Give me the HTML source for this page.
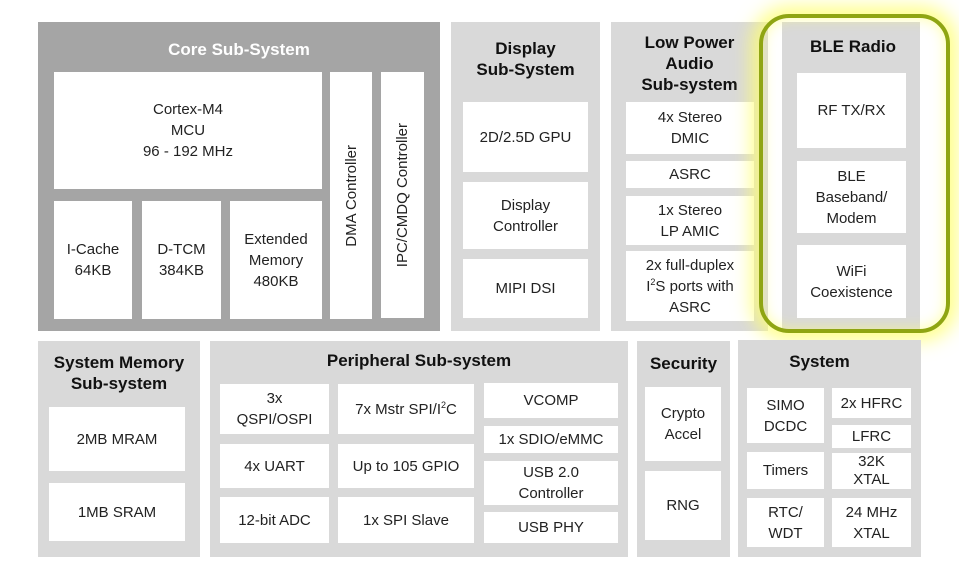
<!DOCTYPE html>
<html><head><meta charset="utf-8"><style>
body{margin:0;width:959px;height:576px;background:#fff;position:relative;overflow:hidden;font-family:"Liberation Sans",sans-serif}
div{position:absolute;box-sizing:border-box}
.g{background:#d9d9d9}
.w{background:#fff;display:flex;align-items:center;justify-content:center;text-align:center;font-size:15px;line-height:21px;color:#222}
.t{font-weight:bold;font-size:17px;line-height:21px;text-align:center;color:#111}
.v{writing-mode:vertical-rl;transform:rotate(180deg)}
sup{font-size:9px;line-height:0;vertical-align:6px}
</style></head><body>
<!-- Core -->
<div style="left:38px;top:22px;width:402px;height:309px;background:#a5a5a5"></div>
<div class="t" style="left:38px;top:39px;width:402px;color:#fff">Core Sub-System</div>
<div class="w" style="left:54px;top:72px;width:268px;height:117px">Cortex-M4<br>MCU<br>96 - 192 MHz</div>
<div class="w" style="left:54px;top:201px;width:78px;height:118px">I-Cache<br>64KB</div>
<div class="w" style="left:142px;top:201px;width:79px;height:118px">D-TCM<br>384KB</div>
<div class="w" style="left:230px;top:201px;width:92px;height:118px">Extended<br>Memory<br>480KB</div>
<div class="w" style="left:330px;top:72px;width:42px;height:247px"><span class="v">DMA Controller</span></div>
<div class="w" style="left:381px;top:72px;width:43px;height:246px"><span class="v">IPC/CMDQ Controller</span></div>
<!-- Display -->
<div class="g" style="left:451px;top:22px;width:149px;height:309px"></div>
<div class="t" style="left:451px;top:38px;width:149px">Display<br>Sub-System</div>
<div class="w" style="left:463px;top:102px;width:125px;height:70px">2D/2.5D GPU</div>
<div class="w" style="left:463px;top:182px;width:125px;height:67px">Display<br>Controller</div>
<div class="w" style="left:463px;top:259px;width:125px;height:59px">MIPI DSI</div>
<!-- Audio -->
<div class="g" style="left:611px;top:22px;width:157px;height:309px"></div>
<div class="t" style="left:611px;top:32px;width:157px">Low Power<br>Audio<br>Sub-system</div>
<div class="w" style="left:626px;top:102px;width:128px;height:52px">4x Stereo<br>DMIC</div>
<div class="w" style="left:626px;top:161px;width:128px;height:27px">ASRC</div>
<div class="w" style="left:626px;top:196px;width:128px;height:49px">1x Stereo<br>LP AMIC</div>
<div class="w" style="left:626px;top:251px;width:128px;height:70px"><span>2x full-duplex<br>I<sup>2</sup>S ports with<br>ASRC</span></div>
<!-- BLE -->
<div style="left:759px;top:14px;width:191px;height:319px;border-radius:30px;box-shadow:0 0 18px 8px rgba(255,255,110,.8)"></div>
<div class="g" style="left:782px;top:22px;width:138px;height:309px"></div>
<div style="left:759px;top:14px;width:191px;height:319px;border-radius:30px;box-shadow:inset 0 0 14px 4px rgba(255,255,110,.6)"></div>
<div class="t" style="left:782px;top:36px;width:142px">BLE Radio</div>
<div class="w" style="left:797px;top:73px;width:109px;height:75px">RF TX/RX</div>
<div class="w" style="left:797px;top:161px;width:109px;height:72px">BLE<br>Baseband/<br>Modem</div>
<div class="w" style="left:797px;top:245px;width:109px;height:73px">WiFi<br>Coexistence</div>
<div style="left:759px;top:14px;width:191px;height:319px;border-radius:30px;border:4px solid #8fa512"></div>
<!-- System Memory -->
<div class="g" style="left:38px;top:341px;width:162px;height:216px"></div>
<div class="t" style="left:38px;top:352px;width:162px">System Memory<br>Sub-system</div>
<div class="w" style="left:49px;top:407px;width:136px;height:64px">2MB MRAM</div>
<div class="w" style="left:49px;top:483px;width:136px;height:58px">1MB SRAM</div>
<!-- Peripheral -->
<div class="g" style="left:210px;top:341px;width:418px;height:216px"></div>
<div class="t" style="left:210px;top:350px;width:418px">Peripheral Sub-system</div>
<div class="w" style="left:220px;top:384px;width:109px;height:50px">3x<br>QSPI/OSPI</div>
<div class="w" style="left:220px;top:444px;width:109px;height:44px">4x UART</div>
<div class="w" style="left:220px;top:497px;width:109px;height:46px">12-bit ADC</div>
<div class="w" style="left:338px;top:384px;width:136px;height:50px"><span>7x Mstr SPI/I<sup>2</sup>C</span></div>
<div class="w" style="left:338px;top:444px;width:136px;height:44px">Up to 105 GPIO</div>
<div class="w" style="left:338px;top:497px;width:136px;height:46px">1x SPI Slave</div>
<div class="w" style="left:484px;top:383px;width:134px;height:35px">VCOMP</div>
<div class="w" style="left:484px;top:426px;width:134px;height:27px">1x SDIO/eMMC</div>
<div class="w" style="left:484px;top:461px;width:134px;height:44px">USB 2.0<br>Controller</div>
<div class="w" style="left:484px;top:512px;width:134px;height:31px">USB PHY</div>
<!-- Security -->
<div class="g" style="left:637px;top:341px;width:93px;height:216px"></div>
<div class="t" style="left:637px;top:353px;width:93px">Security</div>
<div class="w" style="left:645px;top:387px;width:76px;height:74px">Crypto<br>Accel</div>
<div class="w" style="left:645px;top:471px;width:76px;height:69px">RNG</div>
<!-- System -->
<div class="g" style="left:738px;top:340px;width:183px;height:217px"></div>
<div class="t" style="left:738px;top:351px;width:163px">System</div>
<div class="w" style="left:747px;top:388px;width:77px;height:55px">SIMO<br>DCDC</div>
<div class="w" style="left:747px;top:452px;width:77px;height:37px">Timers</div>
<div class="w" style="left:747px;top:498px;width:77px;height:49px">RTC/<br>WDT</div>
<div class="w" style="left:832px;top:388px;width:79px;height:30px">2x HFRC</div>
<div class="w" style="left:832px;top:425px;width:79px;height:23px">LFRC</div>
<div class="w" style="left:832px;top:453px;width:79px;height:36px;line-height:18px">32K<br>XTAL</div>
<div class="w" style="left:832px;top:498px;width:79px;height:49px">24 MHz<br>XTAL</div>
</body></html>
